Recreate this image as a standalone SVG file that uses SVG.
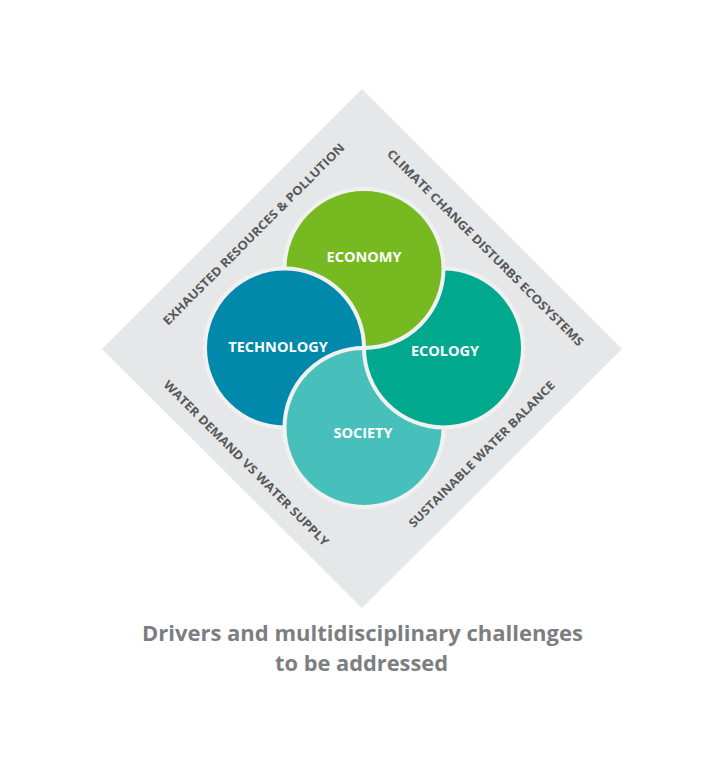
<svg xmlns="http://www.w3.org/2000/svg" width="726" height="768" viewBox="0 0 726 768">
  <style>
    .edge { font-family: "Open Sans", "Noto Sans", "Liberation Sans", sans-serif; font-size: 12px; font-weight: 700; fill: #58595b; text-anchor: middle; }
    .lbl { font-family: "Open Sans", "Noto Sans", "Liberation Sans", sans-serif; font-size: 14.5px; font-weight: 700; fill: #ffffff; text-anchor: middle; }
    .cap { font-family: "Open Sans", "Noto Sans", "Liberation Sans", sans-serif; font-size: 22px; font-weight: 700; fill: #7d7e81; text-anchor: middle; }
    .ring { stroke: #f1f1f2; stroke-width: 4; }
  </style>
  <defs>
    <clipPath id="notEcology">
      <path clip-rule="evenodd" d="M0 0 H726 V768 H0 Z M443.5 348 m-81.5 0 a81.5 81.5 0 1 0 163 0 a81.5 81.5 0 1 0 -163 0 Z"/>
    </clipPath>
  </defs>
  <rect width="726" height="768" fill="#ffffff"/>
  <g id="background">
    <polygon points="362,89 622,349 362,608 102,349" fill="#e6e7e8"/>
  </g>
  <g id="drivers">
    <text class="edge" transform="translate(256.7,237.2) rotate(-45)" textLength="251" lengthAdjust="spacingAndGlyphs">EXHAUSTED RESOURCES &amp; POLLUTION</text>
    <text class="edge" transform="translate(482.3,250.7) rotate(45)" textLength="272" lengthAdjust="spacingAndGlyphs">CLIMATE CHANGE DISTURBS ECOSYSTEMS</text>
    <text class="edge" transform="translate(243.3,466.2) rotate(45)" textLength="228" lengthAdjust="spacingAndGlyphs">WATER DEMAND VS WATER SUPPLY</text>
    <text class="edge" transform="translate(484.7,457.2) rotate(-45)" textLength="201" lengthAdjust="spacingAndGlyphs">SUSTAINABLE WATER BALANCE</text>
  </g>
  <g id="ecology">
    <circle class="ring" cx="443.5" cy="348" r="79.5" fill="#00a88e"/>
    <text class="lbl" x="445" y="356">ECOLOGY</text>
  </g>
  <g id="economy">
    <circle class="ring" cx="364" cy="268.5" r="79.5" fill="#77b920"/>
    <text class="lbl" x="364" y="262">ECONOMY</text>
  </g>
  <g id="technology">
    <circle class="ring" cx="284.5" cy="348" r="79.5" fill="#0089ab"/>
    <text class="lbl" x="278" y="352">TECHNOLOGY</text>
  </g>
  <g id="society" clip-path="url(#notEcology)">
    <circle class="ring" cx="364" cy="427.5" r="79.5" fill="#47c0bc"/>
    <text class="lbl" x="363" y="438">SOCIETY</text>
  </g>
  <g id="connectors"/>
  <g id="caption">
    <text class="cap" x="362.4" y="641" textLength="441" lengthAdjust="spacingAndGlyphs">Drivers and multidisciplinary challenges</text>
    <text class="cap" x="361.5" y="671" textLength="173" lengthAdjust="spacingAndGlyphs">to be addressed</text>
  </g>
</svg>
